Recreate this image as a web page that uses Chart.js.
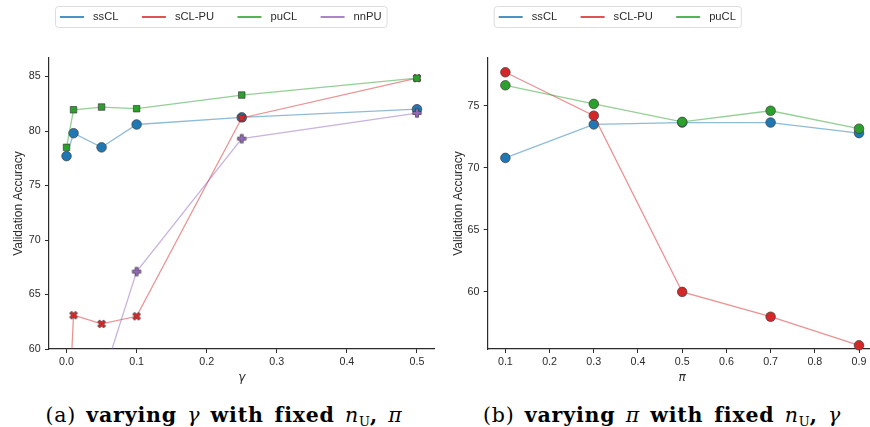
<!DOCTYPE html>
<html>
<head>
<meta charset="utf-8">
<script src="https://cdn.jsdelivr.net/npm/chart.js@4"></script>
<style>
  html, body { margin: 0; padding: 0; background: #fff; width: 870px; height: 427px; overflow: hidden; }
  .panel { position: absolute; top: 0; }
  .caption {
    position: absolute; top: 403px; width: 440px; text-align: center;
    font-family: "DejaVu Serif", "Liberation Serif", serif; font-size: 20.5px;
    letter-spacing: 0.8px; word-spacing: 3px;
    line-height: 24px; color: #000; white-space: nowrap;
  }
  .caption sub { font-size: 13px; vertical-align: -4px; font-weight: normal; letter-spacing: 0; }
</style>
</head>
<body>
<div class="panel" style="left:0"><canvas id="chartA" width="440" height="392"></canvas></div>
<div class="panel" style="left:440px"><canvas id="chartB" width="445" height="392"></canvas></div>
<div class="caption" style="left:4px">(a) <b>varying</b> <i>γ</i> <b>with fixed</b> <i>n</i><sub>U</sub><b>,</b> <i>π</i></div>
<div class="caption" style="left:442px">(b) <b>varying</b> <i>π</i> <b>with fixed</b> <i>n</i><sub>U</sub><b>,</b> <i>γ</i></div>
<script>
// panel (a): accuracy vs gamma
const gammaValues = [0, 0.01, 0.05, 0.1, 0.25, 0.5];
const ssclGamma  = [77.7, 79.8, 78.5, 80.6, 81.25, 82.0];
const sclpuGamma = [49.5, 63.1, 62.3, 63.0, 81.2, 84.85];
const puclGamma  = [78.5, 81.95, 82.2, 82.05, 83.3, 84.85];
const nnpuGamma  = [50.0, 53.0, 57.0, 67.1, 79.3, 81.65];
const gammaTicks = [0, 0.1, 0.2, 0.3, 0.4, 0.5];
const accTicksA  = [60, 65, 70, 75, 80, 85];

// panel (b): accuracy vs pi
const piValues = [0.1, 0.3, 0.5, 0.7, 0.9];
const ssclPi  = [70.8, 73.5, 73.65, 73.65, 72.8];
const sclpuPi = [77.7, 74.2, 60.0, 58.0, 55.7];
const puclPi  = [76.65, 75.15, 73.7, 74.6, 73.15];
const piTicks = [0.1, 0.2, 0.3, 0.4, 0.5, 0.6, 0.7, 0.8, 0.9];
const accTicksB = [60, 65, 70, 75];

const colors = { ssCL: '#1f77b4', 'sCL-PU': '#d62728', puCL: '#2ca02c', nnPU: '#9467bd' };
const fade = { ssCL: 'rgba(31,119,180,0.5)', 'sCL-PU': 'rgba(214,39,40,0.5)', puCL: 'rgba(44,160,44,0.5)', nnPU: 'rgba(148,103,189,0.5)' };
const EDGE = '#3c3c3c';
const SANS = '"Liberation Sans", Arial, sans-serif';
const INK = '#2b2b2b';

// filled plus / x markers like matplotlib 'P' and 'X'
function shapeMarker(fill, rotate) {
  const s = 12, c = s / 2, w = 4.2, t = 1.5;
  const cv = document.createElement('canvas');
  cv.width = s; cv.height = s;
  const g = cv.getContext('2d');
  g.translate(c, c);
  if (rotate) g.rotate(Math.PI / 4);
  const pts = [[-t,-w],[t,-w],[t,-t],[w,-t],[w,t],[t,t],[t,w],[-t,w],[-t,t],[-w,t],[-w,-t],[-t,-t]];
  g.beginPath();
  pts.forEach((p, i) => i ? g.lineTo(p[0], p[1]) : g.moveTo(p[0], p[1]));
  g.closePath();
  g.fillStyle = fill; g.fill();
  g.strokeStyle = EDGE; g.lineWidth = 0.7; g.stroke();
  return cv;
}

function series(label, xs, ys, style, order, extra) {
  return Object.assign({
    label: label,
    data: xs.map((x, i) => ({ x: x, y: ys[i] })),
    borderColor: fade[label],
    borderWidth: 1.3,
    backgroundColor: colors[label],
    pointBackgroundColor: colors[label],
    pointBorderColor: EDGE,
    pointBorderWidth: 0.7,
    pointStyle: style,
    pointRadius: 4.8,
    tension: 0,
    order: order
  }, extra || {});
}

const frameLegend = {
  id: 'frameLegend',
  afterDraw(chart) {
    const ctx = chart.ctx;
    ctx.save();
    ctx.font = '11.2px ' + SANS;
    const left = chart.chartArea.left + 6, top = 6, h = 21;
    let x = left + 5;
    const items = chart.data.datasets.map(ds => {
      const w = ctx.measureText(ds.label).width;
      const it = { x: x, label: ds.label };
      x += 24 + 9 + w + 23.4;
      return it;
    });
    const right = x - 23.4 + 5;
    ctx.beginPath();
    ctx.roundRect(left + 0.5, top + 0.5, right - left, h, 3);
    ctx.fillStyle = 'rgba(255,255,255,0.85)';
    ctx.fill();
    ctx.strokeStyle = '#d4d4d4';
    ctx.lineWidth = 0.8;
    ctx.stroke();
    const cy = top + h / 2 + 0.5;
    items.forEach(it => {
      ctx.beginPath();
      ctx.moveTo(it.x, cy); ctx.lineTo(it.x + 24, cy);
      ctx.strokeStyle = colors[it.label]; ctx.lineWidth = 1.6; ctx.stroke();
      ctx.fillStyle = INK; ctx.textBaseline = 'middle'; ctx.textAlign = 'left';
      ctx.fillText(it.label, it.x + 33, cy);
    });
    ctx.restore();
  }
};

function axes(xMin, xMax, xTicks, yMin, yMax, yTicks, xTitle, yWidth, xHeight) {
  const tickFont = { family: SANS, size: 10.7 };
  const grid = { drawOnChartArea: false, drawTicks: true, tickLength: 4, tickWidth: 1, tickColor: INK };
  const border = { display: true, color: INK, width: 1.2 };
  return {
    x: {
      type: 'linear', min: xMin, max: xMax,
      afterBuildTicks: s => { s.ticks = xTicks.map(v => ({ value: v })); },
      afterFit: s => { s.height = xHeight; },
      ticks: { font: tickFont, color: INK, padding: 3, maxRotation: 0, callback: v => v.toFixed(1) },
      grid: grid, border: border,
      title: { display: true, text: xTitle, color: INK, font: { family: '"DejaVu Sans", sans-serif', size: 12, style: 'italic' }, padding: { top: 0, bottom: 6.5 } }
    },
    y: {
      type: 'linear', min: yMin, max: yMax,
      afterBuildTicks: s => { s.ticks = yTicks.map(v => ({ value: v })); },
      afterFit: s => { s.width = yWidth; },
      ticks: { font: tickFont, color: INK, padding: 4.3, callback: v => String(v) },
      grid: grid, border: border,
      title: { display: true, text: 'Validation Accuracy', color: INK, font: { family: SANS, size: 12 }, padding: { top: 11.3, bottom: 0 } }
    }
  };
}

new Chart(document.getElementById('chartA'), {
  type: 'line',
  data: {
    datasets: [
      series('ssCL', gammaValues, ssclGamma, 'circle', 4),
      series('sCL-PU', gammaValues, sclpuGamma, shapeMarker(colors['sCL-PU'], true), 3),
      series('puCL', gammaValues, puclGamma, 'rect', 2, { pointRadius: 4.6 }),
      series('nnPU', gammaValues, nnpuGamma, shapeMarker(colors.nnPU, false), 1)
    ]
  },
  options: {
    responsive: false, animation: false,
    layout: { padding: { top: 58, right: 2, left: 0, bottom: 0 } },
    plugins: { legend: { display: false }, tooltip: { enabled: false } },
    scales: axes(-0.025, 0.525, gammaTicks, 60, 86.7, accTicksA, 'γ', 49, 43)
  },
  plugins: [frameLegend]
});

new Chart(document.getElementById('chartB'), {
  type: 'line',
  data: {
    datasets: [
      series('ssCL', piValues, ssclPi, 'circle', 3, { clip: false }),
      series('sCL-PU', piValues, sclpuPi, 'circle', 2, { clip: false }),
      series('puCL', piValues, puclPi, 'circle', 1, { clip: false })
    ]
  },
  options: {
    responsive: false, animation: false,
    layout: { padding: { top: 58, right: 8.3, left: 0, bottom: 0 } },
    plugins: { legend: { display: false }, tooltip: { enabled: false } },
    scales: axes(0.06, 0.94, piTicks, 55.4, 78.85, accTicksB, 'π', 47.7, 43)
  },
  plugins: [frameLegend]
});
</script>
</body>
</html>
